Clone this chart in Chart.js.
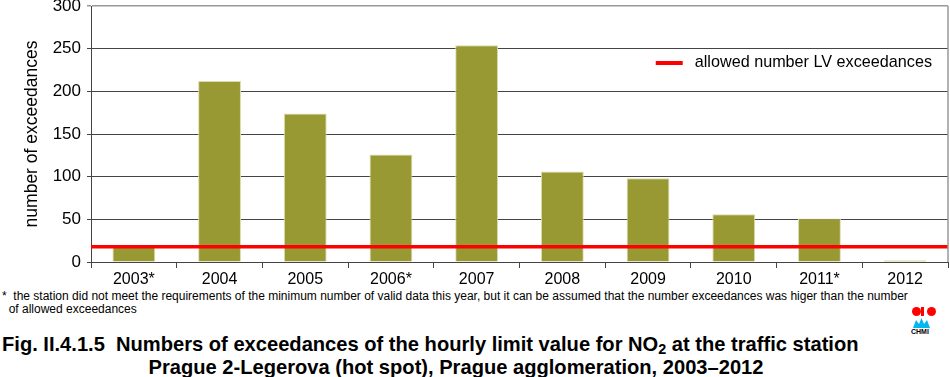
<!DOCTYPE html>
<html>
<head>
<meta charset="utf-8">
<script src="https://cdn.jsdelivr.net/npm/chart.js@4.4.1/dist/chart.umd.min.js"></script>
<style>
  body { margin: 0; background: #fff; width: 950px; height: 377px; overflow: hidden; position: relative; font-family: "Liberation Sans", Arial, sans-serif; }
  #wrap { position: absolute; left: 0; top: 0; width: 950px; height: 288px; }
  #note { position: absolute; left: 2px; top: 290px; font-size: 12px; line-height: 13px; color: #000; white-space: nowrap; }
  #caption { position: absolute; left: 2px; top: 332px; font-size: 21px; line-height: 23px; font-weight: bold; color: #000; white-space: nowrap; transform: scaleX(0.958); transform-origin: 0 0; }
  #caption .l2 { padding-left: 153px; }
  #caption sub { font-size: 15px; vertical-align: -3px; line-height: 0; }
  .dot { position: absolute; width: 9px; height: 9px; border-radius: 50%; background: #ff0000; }
  #wave { position: absolute; left: 913px; top: 318px; width: 17px; height: 10px; }
  #chmi { position: absolute; left: 911px; top: 328px; font-size: 7px; font-weight: bold; color: #000; }
</style>
</head>
<body>
<div id="wrap"><canvas id="barChart"></canvas></div>
<div id="note">*&nbsp; the station did not meet the requirements of the minimum number of valid data this year, but it can be assumed that the number exceedances was higer than the number<br>&nbsp;&nbsp;of allowed exceedances</div>
<div id="caption">Fig. II.4.1.5&nbsp; Numbers of exceedances of the hourly limit value for NO<sub>2</sub> at the traffic station<br><span class="l2">Prague 2-Legerova (hot spot), Prague agglomeration, 2003–2012</span></div>
<div class="dot" style="left:912px;top:307px"></div>
<div class="dot" style="left:923px;top:307px;width:8px;background:#fff;"></div>
<div class="dot" style="left:921px;top:307px;width:3px;border-radius:0;"></div>
<div class="dot" style="left:927px;top:307px"></div>
<svg id="wave" viewBox="0 0 17 10"><path d="M0 10 L3 2 L6 6 L8.5 0 L11 6 L14 2 L17 10 Z" fill="#00b7f0"/></svg>
<div id="chmi">CHMI</div>
<script>
var years = ['2003*', '2004', '2005', '2006*', '2007', '2008', '2009', '2010', '2011*', '2012'];
var exceedances = [18, 212, 174, 126, 254, 106, 98, 56, 51, 2];
var allowedLimit = 18;
var yTicks = [0, 50, 100, 150, 200, 250, 300];

window.onload = function() {
    Chart.defaults.font.family = '"Liberation Sans", Arial, sans-serif';
    Chart.defaults.color = '#000';

    // right frame line + legend drawn inside the plot, upper right
    var frame = {
        id: 'frame',
        afterDraw: function(chart) {
            var a = chart.chartArea, c = chart.ctx;
            var ds = chart.data.datasets[1];
            c.save();
            c.strokeStyle = '#999';
            c.lineWidth = 1.5;
            c.beginPath();
            c.moveTo(a.right, a.top);
            c.lineTo(a.right, a.bottom);
            c.stroke();

            c.font = '16.2px "Liberation Sans", Arial, sans-serif';
            var tw = c.measureText(ds.label).width;
            var tx = a.right - 16 - tw;
            var ty = a.top + 57;
            c.strokeStyle = ds.borderColor;
            c.lineWidth = 4;
            c.beginPath();
            c.moveTo(tx - 39, ty);
            c.lineTo(tx - 12, ty);
            c.stroke();
            c.fillStyle = '#000';
            c.textBaseline = 'middle';
            c.fillText(ds.label, tx, ty);
            c.restore();
        }
    };

    var ctx = document.getElementById('barChart').getContext('2d');
    var barChart = new Chart(ctx, {
        type: 'bar',
        data: {
            labels: years,
            datasets: [{
                label: 'number of exceedances',
                data: exceedances,
                backgroundColor: '#999933',
                borderColor: '#dcdcb0',
                borderWidth: 1,
                categoryPercentage: 0.5,
                barPercentage: 1,
                grouped: false,
                order: 2
            }, {
                type: 'line',
                label: 'allowed number LV exceedances',
                data: [{x: 0, y: allowedLimit}, {x: 1, y: allowedLimit}],
                xAxisID: 'x2',
                borderColor: '#ff0000',
                backgroundColor: '#ff0000',
                borderWidth: 3.5,
                pointRadius: 0,
                grouped: false,
                clip: false,
                order: 1
            }]
        },
        options: {
            responsive: true,
            maintainAspectRatio: false,
            animation: false,
            layout: { padding: { left: 0, right: 2, top: 0, bottom: 0 } },
            scales: {
                x: {
                    grid: { display: true, drawOnChartArea: false, drawTicks: true, tickLength: 6, color: '#444' },
                    border: { color: '#444', width: 1 },
                    ticks: { font: { size: 16 }, padding: 2 },
                    afterFit: function(s) { s.height = 26; }
                },
                x2: {
                    type: 'linear',
                    display: false,
                    offset: false,
                    min: 0,
                    max: 1
                },
                y: {
                    min: 0,
                    max: 300,
                    afterBuildTicks: function(s) { s.ticks = yTicks.map(function(v) { return {value: v}; }); },
                    grid: {
                        color: function(c) { return c.tick && c.tick.value === 300 ? '#999' : '#444'; },
                        lineWidth: function(c) { return c.tick && c.tick.value === 300 ? 1.5 : 1; },
                        tickLength: 4
                    },
                    border: { color: '#444', width: 1 },
                    ticks: { font: { size: 17 }, padding: 6 },
                    title: { display: true, text: 'number of exceedances', font: { size: 17.5 }, padding: { top: 22, bottom: 0 } },
                    afterFit: function(s) { s.width = 91; s.paddingTop = 6; }
                }
            },
            plugins: {
                legend: { display: false },
                tooltip: { enabled: false }
            }
        },
        plugins: [frame]
    });
};
</script>
</body>
</html>
